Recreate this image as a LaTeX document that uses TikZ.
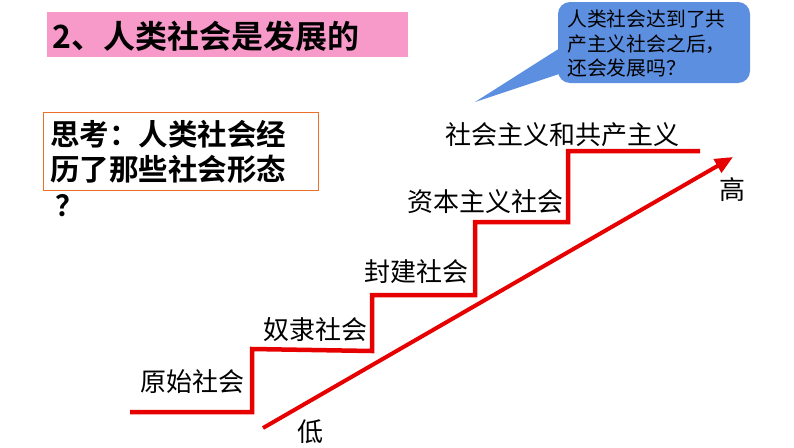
\documentclass[tikz,border=0pt]{standalone}
\usepackage{fontspec}
\setmainfont{Noto Sans CJK SC}
\newfontfamily\cjkbold{Noto Sans CJK SC Bold}
\usetikzlibrary{arrows.meta}
\definecolor{titlepink}{RGB}{247,154,202}
\definecolor{bubbleblue}{RGB}{93,143,224}
\definecolor{boxorange}{RGB}{236,112,40}
\definecolor{stepred}{RGB}{230,0,0}
\tikzset{
  lbl/.style={font=\fontsize{26}{30}\selectfont, inner sep=0pt},
  stairline/.style={draw=stepred, line width=4.5pt, line join=miter},
  arrowline/.style={draw=stepred, line width=4pt, -{Triangle[length=18pt,width=15pt]}},
}
\begin{document}
\begin{tikzpicture}[x=1pt,y=-1pt]
\useasboundingbox (0,0) rectangle (794,447);
% title
\fill[titlepink] (47,12) rectangle (408,57);
\node[anchor=west, inner sep=0pt, font=\cjkbold\fontsize{32}{36}\selectfont] (title) at (52,36) {2、人类社会是发展的};
% think box
\draw[boxorange, line width=1pt] (43,112) rectangle (318,190);
\node[anchor=west, inner sep=0pt, align=left, font=\cjkbold\fontsize{29.5}{35}\selectfont] (think) at (50,152) {思考：人类社会经\\历了那些社会形态};
\node[inner sep=0pt, font=\cjkbold\fontsize{29}{35}\selectfont] (q) at (70,206) {？};
% speech bubble
\fill[bubbleblue, rounded corners=12pt] (558,2) rectangle (750,83);
\fill[bubbleblue] (560,48) -- (475,102) -- (562,73) -- cycle;
\node[anchor=north west, inner sep=0pt, align=left, font=\fontsize{19.8}{24.5}\selectfont] (bubble) at (567,10) {人类社会达到了共\\产主义社会之后，\\还会发展吗？};
% staircase
\coordinate (s0) at (130,412);
\coordinate (s1) at (252,412);
\coordinate (s2) at (252,349);
\coordinate (s3) at (372,351);
\coordinate (s4) at (372,295);
\coordinate (s5) at (475,295);
\coordinate (s6) at (475,222);
\coordinate (s7) at (568,222);
\coordinate (s8) at (568,151);
\coordinate (s9) at (700,151);
\draw[stairline] (s0) -- (s1) -- (s2) -- (s3) -- (s4) -- (s5) -- (s6) -- (s7) -- (s8) -- (s9);
% labels
\node[lbl] (l1) at (192,382) {原始社会};
\node[lbl] (l2) at (315,330) {奴隶社会};
\node[lbl] (l3) at (416,272) {封建社会};
\node[lbl] (l4) at (485,202) {资本主义社会};
\node[lbl] (l5) at (562,135) {社会主义和共产主义};
% arrow
\coordinate (a0) at (263,428);
\coordinate (a1) at (733,157);
\draw[arrowline] (a0) -- (a1);
\node[lbl] (low) at (310,432) {低};
\node[lbl] (high) at (732,190) {高};
\end{tikzpicture}
\end{document}
